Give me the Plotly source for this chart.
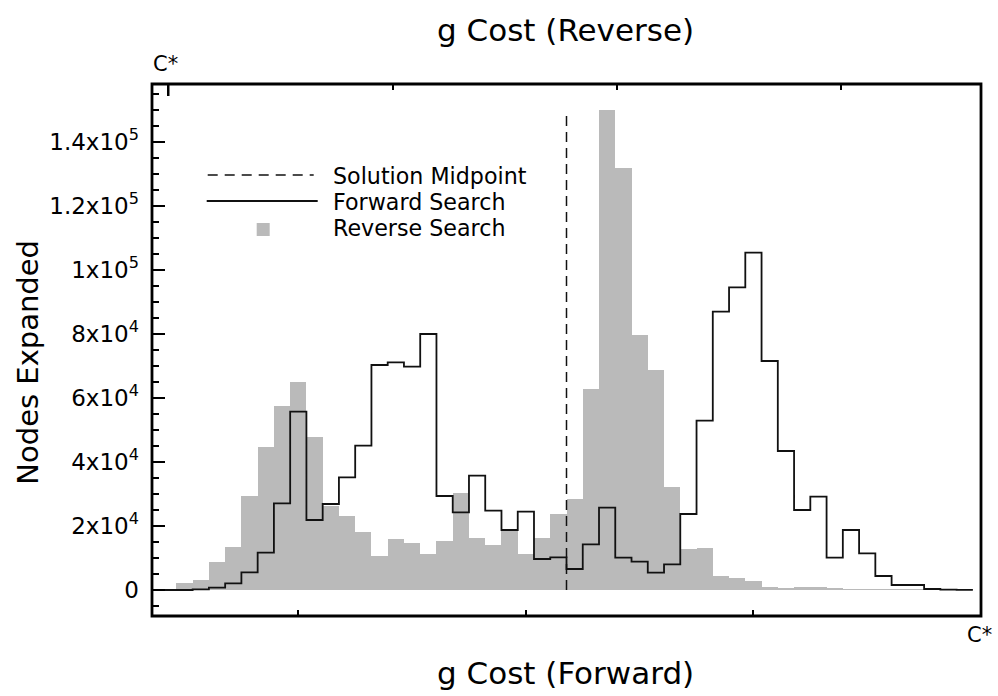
import plotly.graph_objects as go

# ---- data ----
bin_index = list(range(50))  # histogram bins along g cost (forward), C* = right edge
reverse_search = [0, 2083, 3125, 8646, 13542, 29479, 44792, 57500, 64896, 47917,
                  26354, 23229, 18229, 10729, 15833, 14792, 11146, 15417, 30417, 16354,
                  14063, 18750, 11250, 16354, 23750, 28333, 62708, 150000, 131771, 79688,
                  68750, 32292, 12708, 13021, 4375, 3646, 2917, 833, 521, 833,
                  1042, 417, 300, 250, 300, 250, 200, 150, 100, 50]
forward_search = [0, 0, 200, 730, 2083, 5521, 11667, 27083, 55729, 21875,
                  26875, 35208, 45104, 70313, 71146, 69792, 80000, 29375, 24271, 35729,
                  24792, 18750, 24479, 9688, 10208, 6563, 14271, 25729, 10104, 8854,
                  5417, 8021, 23750, 52917, 86979, 94583, 105417, 71563, 43438, 25000,
                  29167, 10104, 18750, 11458, 4375, 1563, 1563, 313, 100, 50]
solution_midpoint = 25
midpoint_top = 148500

y_tickvals = [0, 20000, 40000, 60000, 80000, 100000, 120000, 140000]
y_ticktext = ["0", "2x10<sup>4</sup>", "4x10<sup>4</sup>", "6x10<sup>4</sup>",
              "8x10<sup>4</sup>", "1x10<sup>5</sup>", "1.2x10<sup>5</sup>", "1.4x10<sup>5</sup>"]
forward_ticks = [8.5, 22.5, 36.5]
reverse_ticks = [14.3, 28.1, 41.9]
legend_labels = ["Solution Midpoint", "Forward Search", "Reverse Search"]

FONT = "DejaVu Sans"
GRAY = "#bababa"
INK = "#111111"

fig = go.Figure()

# Reverse search histogram (filled gray bars)
fig.add_trace(go.Bar(
    x=[b + 0.5 for b in bin_index], y=reverse_search, width=1.0,
    marker=dict(color=GRAY, line=dict(width=0)),
    name="Reverse Search", showlegend=False, hoverinfo="skip",
))

# Forward search histogram (step outline)
edges = bin_index + [len(bin_index)]
fig.add_trace(go.Scatter(
    x=edges, y=forward_search + [forward_search[-1]],
    mode="lines", line=dict(color=INK, width=1.8, shape="hv"),
    name="Forward Search", showlegend=False, hoverinfo="skip",
))

# Solution midpoint
fig.add_trace(go.Scatter(
    x=[solution_midpoint, solution_midpoint], y=[0, midpoint_top],
    mode="lines", line=dict(color=INK, width=1.5, dash="10px,6px"),
    name="Solution Midpoint", showlegend=False, hoverinfo="skip",
))

# invisible trace to anchor the top (reverse) axis
fig.add_trace(go.Scatter(x=[0.5], y=[0], xaxis="x2", mode="markers",
                         marker=dict(opacity=0), showlegend=False, hoverinfo="skip"))

W0, W1, H0, H1 = 152.3, 981.3, 84.0, 616.0
PW, PH = W1 - W0, H1 - H0

def px(xp):
    return (xp - W0) / PW

def py(yp):
    return (H1 - yp) / PH

fig.update_layout(
    width=998, height=696, autosize=False,
    margin=dict(l=W0, r=998 - W1, t=H0, b=696 - H1, pad=0),
    paper_bgcolor="white", plot_bgcolor="white",
    showlegend=False, bargap=0,
    font=dict(family=FONT, color="black", size=22),
    xaxis=dict(range=[-0.5, 50.5], showgrid=False, zeroline=False, showline=False,
               tickmode="array", tickvals=forward_ticks, showticklabels=False,
               ticks="inside", ticklen=6, tickwidth=1.5, tickcolor="black"),
    xaxis2=dict(range=[-0.5, 50.5], overlaying="x", side="top", anchor="y",
                showgrid=False, zeroline=False, showline=False,
                tickmode="array", tickvals=reverse_ticks, showticklabels=False,
                ticks="inside", ticklen=6, tickwidth=1.5, tickcolor="black"),
    yaxis=dict(range=[-8125, 158125], showgrid=False, zeroline=False, showline=False,
               tickmode="array", tickvals=y_tickvals, ticktext=y_ticktext,
               ticks="inside", ticklen=13, tickwidth=2, tickcolor="black",
               ticklabelstandoff=12,
               tickfont=dict(family=FONT, size=23, color="black"),
               minor=dict(tickmode="linear", tick0=0, dtick=5000, ticks="inside",
                          ticklen=7, tickwidth=1.5, tickcolor="black")),
)

shapes = [
    # frame
    dict(type="rect", xref="paper", yref="paper", x0=0, x1=1, y0=0, y1=1,
         line=dict(color="black", width=2.8), fillcolor="rgba(0,0,0,0)", layer="above"),
    # C* tick on the reverse (top) axis
    dict(type="line", xref="x", yref="paper", x0=0.5, x1=0.5, ysizemode="pixel",
         yanchor=1, y0=0, y1=-12, line=dict(color="black", width=2.5)),
    # legend samples
    dict(type="line", xref="paper", yref="paper", x0=px(208), x1=px(314), y0=py(175), y1=py(175),
         line=dict(color=INK, width=1.5, dash="10px,7px")),
    dict(type="line", xref="paper", yref="paper", x0=px(207), x1=px(318), y0=py(201), y1=py(201),
         line=dict(color=INK, width=1.8)),
    dict(type="rect", xref="paper", yref="paper", x0=px(257), x1=px(270), y0=py(236), y1=py(223),
         line=dict(width=0), fillcolor=GRAY),
]
fig.update_layout(shapes=shapes)

ann = []
def text(s, xp, yp, size, xanchor="center", yanchor="middle", angle=0):
    ann.append(dict(text=s, xref="paper", yref="paper", x=px(xp), y=py(yp),
                    xanchor=xanchor, yanchor=yanchor, showarrow=False, textangle=angle,
                    borderpad=0, font=dict(family=FONT, size=size, color="black")))

for label, ly in zip(legend_labels, [176, 202, 228]):
    text(label, 332, ly, 22.2, xanchor="left")
text("g Cost (Reverse)", 566, 30, 31)
text("g Cost (Forward)", 566, 673, 31)
text("Nodes Expanded", 28, 362, 29, angle=-90)
text("C*", 166, 64, 21)
text("C*", 980, 635, 21)
fig.update_layout(annotations=ann)

fig.write_html("out.html")
